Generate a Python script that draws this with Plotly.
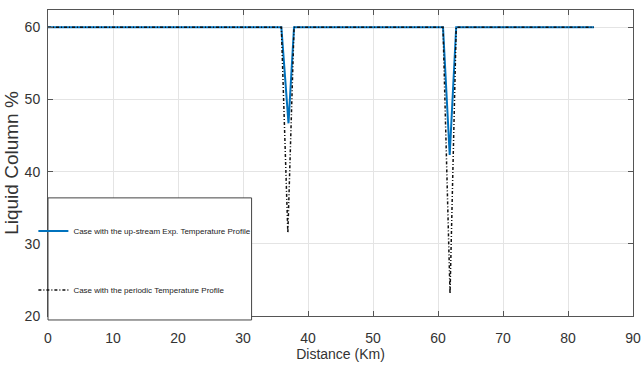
import plotly.graph_objects as go

# Data
distance_upstream = [0, 35.9, 37.0, 37.85, 60.77, 61.8, 62.8, 84]
liquid_upstream = [60, 60, 46.7, 60, 60, 42.3, 60, 60]
distance_periodic = [0, 35.9, 36.9, 37.85, 60.77, 61.85, 62.8, 84]
liquid_periodic = [60, 60, 31.5, 60, 60, 23.1, 60, 60]

name_upstream = "Case with the up-stream Exp. Temperature Profile"
name_periodic = "Case with the periodic Temperature Profile"

x_ticks = [0, 10, 20, 30, 40, 50, 60, 70, 80, 90]
y_ticks = [20, 30, 40, 50, 60]

font_main = "Liberation Sans, Arial, sans-serif"

fig = go.Figure()
fig.add_trace(go.Scatter(
    x=distance_upstream, y=liquid_upstream, mode="lines", name=name_upstream,
    line=dict(color="#0072BD", width=2), legend="legend"))
fig.add_trace(go.Scatter(
    x=distance_periodic, y=liquid_periodic, mode="lines", name=name_periodic,
    line=dict(color="#111111", width=1.5, dash="3px,2px,1px,2px"), legend="legend2"))

# legend box
fig.add_shape(type="rect", xref="paper", yref="paper",
              x0=0, x1=0.348, y0=-0.013, y1=0.386,
              line=dict(color="#444444", width=1), fillcolor="white", layer="above")

legend_common = dict(font=dict(family=font_main, size=8, color="#222222"),
                     bgcolor="rgba(0,0,0,0)", borderwidth=0, itemwidth=30,
                     xanchor="left", yanchor="middle")

fig.update_layout(
    width=641, height=377,
    margin=dict(l=47.5, r=8, t=10, b=61),
    paper_bgcolor="white", plot_bgcolor="white",
    showlegend=True,
    legend=dict(x=-0.025, y=0.278, **legend_common),
    legend2=dict(x=-0.025, y=0.085, **legend_common),
    xaxis=dict(range=[0, 90], tickvals=x_ticks, ticks="inside", ticklen=5,
               tickcolor="#555555", showgrid=True, gridcolor="#e4e4e4",
               showline=True, linecolor="#555555", linewidth=1, mirror="ticks",
               zeroline=False, ticklabelstandoff=9, automargin=False,
               tickfont=dict(family=font_main, size=14, color="#333333"),
               title=dict(text="Distance (Km)", standoff=4,
                          font=dict(family=font_main, size=14, color="#333333"))),
    yaxis=dict(range=[20, 62.4], tickvals=y_ticks, ticks="inside", ticklen=5,
               tickcolor="#555555", showgrid=True, gridcolor="#e4e4e4",
               showline=True, linecolor="#555555", linewidth=1, mirror="ticks",
               zeroline=False, ticklabelstandoff=4, automargin=False,
               tickfont=dict(family=font_main, size=14, color="#333333"),
               title=dict(text="Liquid Column %", standoff=0,
                          font=dict(family=font_main, size=19, color="#333333"))),
)

# remove the browser's default 8px body margin so the figure fills the window
fig.write_html("out.html", config={"displayModeBar": False},
               post_script="document.body.style.margin='0';")
